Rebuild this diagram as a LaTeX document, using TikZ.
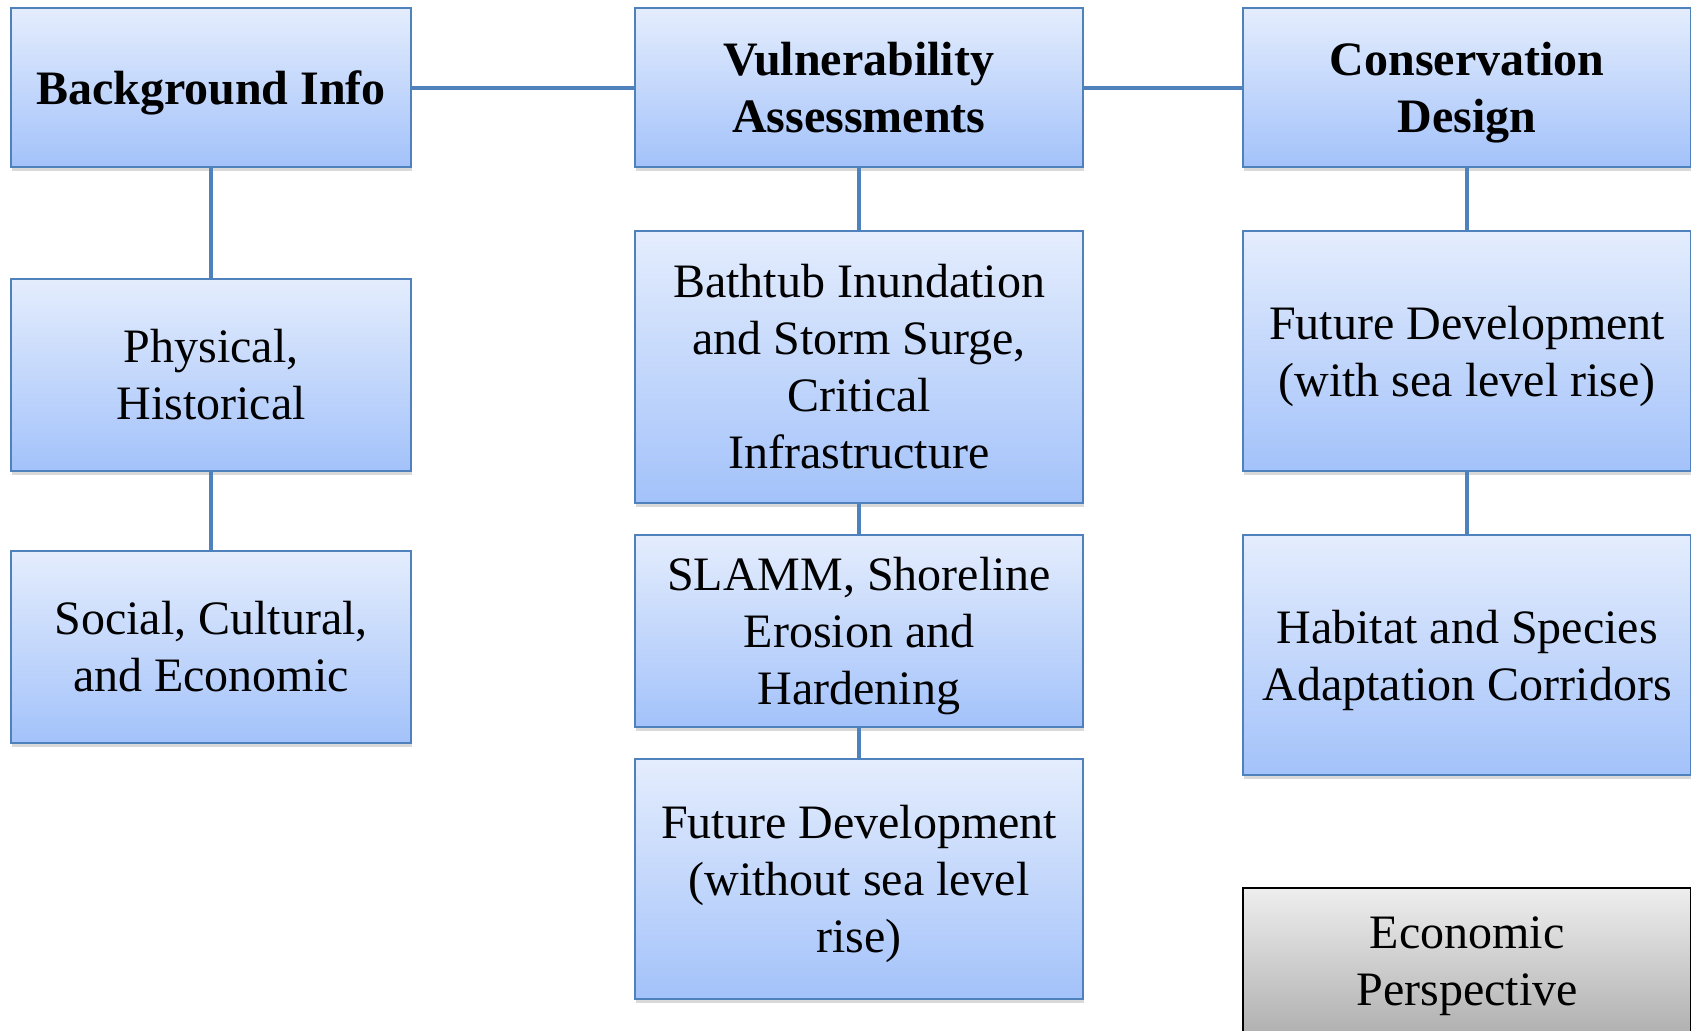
\documentclass[tikz,border=0pt]{standalone}
\usepackage{fontspec}
\setmainfont{Liberation Serif}
\usetikzlibrary{positioning,shadows}
\definecolor{boxtop}{RGB}{228,237,253}
\definecolor{boxbot}{RGB}{163,194,250}
\definecolor{boxline}{RGB}{79,129,189}
\definecolor{greytop}{RGB}{238,238,238}
\definecolor{greybot}{RGB}{176,176,176}
% last line without depth, so descenders do not lift the text
\newcommand{\nodepth}[1]{\raisebox{0pt}[\height][0pt]{#1}}

\begin{document}
\begin{tikzpicture}[node distance=32pt, semithick,
    every node/.style={font=\fontsize{24}{28.5}\selectfont, align=center},
    box/.style={rectangle, draw=boxline, line width=1pt, inner sep=0pt, outer sep=0pt,
        top color=boxtop, bottom color=boxbot,
        drop shadow={shadow xshift=0.6pt, shadow yshift=-2pt, opacity=0.3}},
    greybox/.style={box, draw=black, top color=greytop, bottom color=greybot},
    head/.style={box, font=\fontsize{24}{28.5}\selectfont\bfseries, minimum height=79.5pt},
    link/.style={draw=boxline, line width=2pt}
    ]
\useasboundingbox (0,0) rectangle (845.5pt,-515pt);
% top row
\node[head, minimum width=200pt, anchor=north west] (bg) at (5.5pt,-4pt) {\nodepth{Background Info}};
\node[head, minimum width=224pt, right=112pt of bg] (va) {Vulnerability\\Assessments};
\node[head, minimum width=224pt, right=80pt of va]  (cd) {Conservation\\\nodepth{Design}};

% left column
\node[box, minimum width=200pt, minimum height=96pt, below=56pt of bg]   (phys) {Physical,\\Historical};
\node[box, minimum width=200pt, minimum height=96pt, below=40pt of phys] (soc)  {Social, Cultural,\\and Economic};

% middle column
\node[box, minimum width=224pt, minimum height=136pt, below=32pt of va]    (bath)  {Bathtub Inundation\\and Storm Surge,\\Critical\\Infrastructure};
\node[box, minimum width=224pt, minimum height=96pt, below=16pt of bath]   (slamm) {SLAMM, Shoreline\\Erosion and\\\nodepth{Hardening}};
\node[box, minimum width=224pt, minimum height=120pt, below=16pt of slamm] (fdno)  {Future Development\\(without sea level\\\nodepth{rise)}};

% right column
\node[box, minimum width=224pt, minimum height=120pt, below=32pt of cd]  (fdslr) {Future Development\\\nodepth{(with sea level rise)}};
\node[box, minimum width=224pt, minimum height=120pt, below=32pt of fdslr] (hab) {Habitat and Species\\\nodepth{Adaptation Corridors}};
\node[greybox, minimum width=224pt, minimum height=73.5pt, below=56.5pt of hab] (eco) {Economic\\\nodepth{Perspective}};

\path
(bg)    edge [link] (va)
(va)    edge [link] (cd)
(bg)    edge [link] (phys)
(phys)  edge [link] (soc)
(va)    edge [link] (bath)
(bath)  edge [link] (slamm)
(slamm) edge [link] (fdno)
(cd)    edge [link] (fdslr)
(fdslr) edge [link] (hab)
;
\end{tikzpicture}
\end{document}
